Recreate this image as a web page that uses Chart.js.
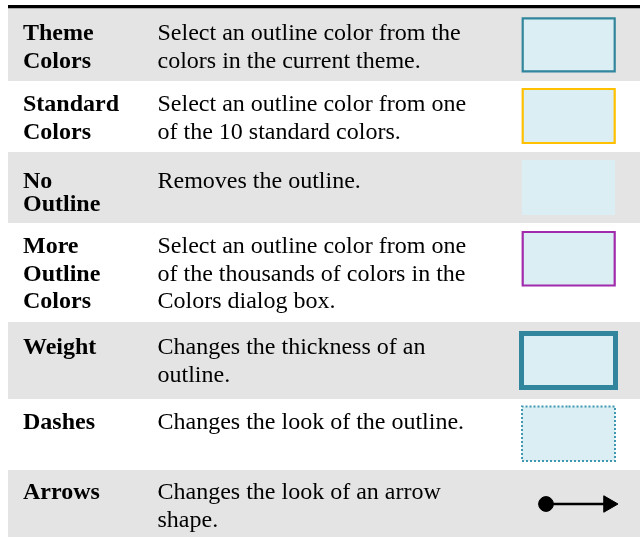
<!DOCTYPE html>
<html>
<head>
<meta charset="utf-8">
<script src="https://cdn.jsdelivr.net/npm/chart.js@4.4.1/dist/chart.umd.min.js"></script>
<style>
  html, body { margin: 0; padding: 0; background: #fff; }
  #wrap { width: 640px; height: 537px; font-family: "Liberation Serif"; }
</style>
</head>
<body>
<div id="wrap"><canvas id="outlineChart" width="640" height="537"></canvas></div>
<script>
// --- table content ---
const optionNames = [
    ['Theme', 'Colors'],
    ['Standard', 'Colors'],
    ['No', 'Outline'],
    ['More', 'Outline', 'Colors'],
    ['Weight'],
    ['Dashes'],
    ['Arrows']
];
const optionDescriptions = [
    ['Select an outline color from the', 'colors in the current theme.'],
    ['Select an outline color from one', 'of the 10 standard colors.'],
    ['Removes the outline.'],
    ['Select an outline color from one', 'of the thousands of colors in the', 'Colors dialog box.'],
    ['Changes the thickness of an', 'outline.'],
    ['Changes the look of the outline.'],
    ['Changes the look of an arrow', 'shape.']
];

// --- layout (page pixels, used as axis units) ---
const rowTops = [8, 81, 152, 223, 322, 399, 470, 537];
const firstBaseline = [40, 111, 188, 253, 354, 429, 499];
const lineGap = [27.6, 27.6, 23, 27.6, 27.6, 27.6, 27.6];
const nameX = 23;
const descX = 157.5;

// sample box per row: [left, right, top, bottom]
const swatchBoxes = [
    [522.7, 614.7, 18.3, 71.3],
    [522.7, 614.7, 89, 143],
    [522, 615, 160, 215],
    [522.7, 614.7, 232, 285.5],
    [521.5, 615.5, 333.5, 387.5],
    [522, 615, 406.5, 461]
];
const swatchLines = [
    { color: '#31859c', width: 2.2, dash: [] },
    { color: '#ffc000', width: 2.2, dash: [] },
    null,
    { color: '#a02bac', width: 2.2, dash: [] },
    { color: '#31859c', width: 5, dash: [] },
    { color: '#3f98b0', width: 2, dash: [2, 2] }
];
const SHADE = '#e4e4e4';
const SWATCH_FILL = '#daeef3';
const CLEAR = 'rgba(0,0,0,0)';
const SERIF = '"Liberation Serif", "Times New Roman", Times, serif';


// --- dataset builders ---

// grey band, drawn as a top edge filled down to the row bottom
function bandDataset(top, bottom) {
    return {
        data: [{ x: 8, y: top }, { x: 640, y: top }],
        borderColor: CLEAR,
        borderWidth: 0,
        pointRadius: 0,
        backgroundColor: SHADE,
        fill: { value: bottom },
        order: 10
    };
}

function swatchFillDataset(box) {
    return {
        data: [{ x: box[0], y: box[2] }, { x: box[1], y: box[2] }],
        borderColor: CLEAR,
        borderWidth: 0,
        pointRadius: 0,
        backgroundColor: SWATCH_FILL,
        fill: { value: box[3] },
        order: 5
    };
}

function swatchOutlineDataset(box, look) {
    const mid = (box[0] + box[1]) / 2;
    return {
        data: [
            { x: mid, y: box[2] }, { x: box[1], y: box[2] }, { x: box[1], y: box[3] },
            { x: box[0], y: box[3] }, { x: box[0], y: box[2] }, { x: mid, y: box[2] }
        ],
        borderColor: look.color,
        borderWidth: look.width,
        borderDash: look.dash,
        borderJoinStyle: 'miter',
        pointRadius: 0,
        fill: false,
        order: 4
    };
}

const datasets = [];

// thick rule on top of the table
datasets.push({
    data: [{ x: 8, y: 6.6 }, { x: 640, y: 6.6 }],
    borderColor: '#000',
    borderWidth: 3.4,
    pointRadius: 0,
    fill: false,
    order: 1
});

for (let r = 0; r < optionNames.length; r++) {
    if (r % 2 === 0) datasets.push(bandDataset(rowTops[r], rowTops[r + 1]));
}

swatchBoxes.forEach((box, i) => {
    datasets.push(swatchFillDataset(box));
    if (swatchLines[i]) datasets.push(swatchOutlineDataset(box, swatchLines[i]));
});

// arrow sample: round start, triangle head
datasets.push({
    data: [{ x: 546, y: 504 }, { x: 608.5, y: 504 }],
    borderColor: '#000',
    borderWidth: 2.4,
    pointStyle: ['circle', 'triangle'],
    pointRadius: [7.4, 9.5],
    pointRotation: [0, 90],
    pointBackgroundColor: '#000',
    pointBorderColor: '#000',
    pointBorderWidth: 1,
    fill: false,
    order: 2
});


// --- text of the table ---
const tableText = {
    id: 'tableText',
    afterDatasetsDraw(chart) {
        const { ctx } = chart;
        const xs = chart.scales.x, ys = chart.scales.y;
        ctx.save();
        ctx.fillStyle = '#000';
        ctx.textBaseline = 'alphabetic';
        ctx.textAlign = 'left';
        for (let r = 0; r < optionNames.length; r++) {
            ctx.font = 'bold 24px ' + SERIF;
            optionNames[r].forEach((t, i) => {
                ctx.fillText(t, xs.getPixelForValue(nameX), ys.getPixelForValue(firstBaseline[r] + i * lineGap[r]));
            });
            ctx.font = '24px ' + SERIF;
            optionDescriptions[r].forEach((t, i) => {
                ctx.fillText(t, xs.getPixelForValue(descX), ys.getPixelForValue(firstBaseline[r] + i * lineGap[r]));
            });
        }
        ctx.restore();
    }
};

function drawTable() {
    const ctx = document.getElementById('outlineChart');
    new Chart(ctx, {
        type: 'line',
        data: { datasets: datasets },
        options: {
            responsive: false,
            animation: false,
            events: [],
            devicePixelRatio: 1,
            layout: { padding: 0, autoPadding: false },
            plugins: { legend: { display: false }, tooltip: { enabled: false } },
            scales: {
                x: { type: 'linear', min: 0, max: 640, display: false },
                y: { type: 'linear', min: 0, max: 537, reverse: true, display: false }
            }
        },
        plugins: [tableText]
    });
}

// make sure the serif face is ready before the canvas text is drawn
Promise.all([
    document.fonts.load('bold 24px "Liberation Serif"'),
    document.fonts.load('24px "Liberation Serif"')
]).then(drawTable, drawTable);
</script>
</body>
</html>
